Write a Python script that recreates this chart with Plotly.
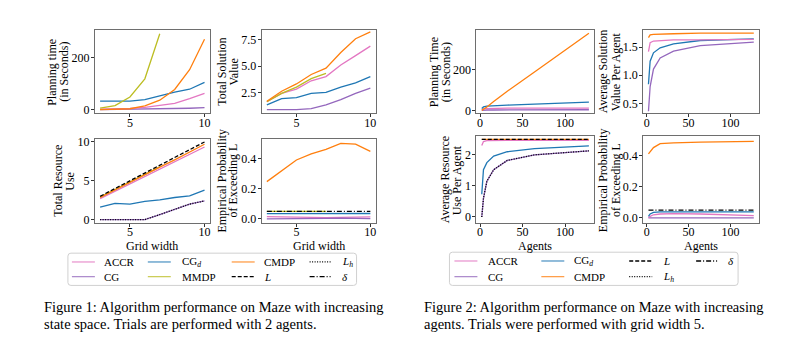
import plotly.graph_objects as go

# ---------------- data ----------------
grid_width = [3, 4, 5, 6, 7, 8, 9, 10]
grid_width_mmdp = [3, 4, 5, 6, 7]
agents = [2, 4, 8, 16, 32, 64, 128]

# Figure 1: increasing grid width
time_ACCR = [1, 2, 4, 8, 15, 24, 42, 62]
time_CG = [0, 0.5, 1, 2, 3, 4, 5, 7]
time_CGd = [32, 32, 32, 38, 52, 67, 78, 104]
time_MMDP = [5, 15, 48, 118, 291]
time_CMDP = [0, 1, 3, 14, 36, 77, 153, 270]

val_ACCR = [1.6, 2.4, 2.8, 3.6, 4.0, 5.1, 6.0, 6.9]
val_CG = [0.85, 0.85, 0.85, 0.95, 1.3, 1.8, 2.4, 2.9]
val_CGd = [1.3, 1.9, 2.0, 2.4, 2.5, 3.0, 3.4, 4.0]
val_MMDP = [1.6, 2.4, 3.0, 3.8, 4.3]
val_CMDP = [1.65, 2.6, 3.3, 4.2, 4.8, 6.3, 7.6, 8.25]

res_ACCR = [2.7, 3.65, 4.6, 5.55, 6.5, 7.45, 8.4, 9.35]
res_CG = [0, 0, 0, 0, 0.65, 1.3, 2.0, 2.4]
res_CGd = [1.6, 2.1, 2.0, 2.35, 2.55, 2.85, 3.05, 3.8]
res_MMDP = [2.9, 3.9, 4.85, 5.85, 6.8]
res_CMDP = [2.85, 3.85, 4.8, 5.8, 6.75, 7.7, 8.7, 9.7]
res_L = [3, 4, 5, 6, 7, 8, 9, 10]
res_Lh = [0, 0, 0, 0, 0.65, 1.3, 2.0, 2.4]

prob_ACCR = [0.015, 0.012, 0.01, 0.01, 0.009, 0.01, 0.012, 0.014]
prob_CG = [0.0, 0.0, 0.0, 0.002, 0.004, 0.006, 0.004, 0.002]
prob_CGd = [0.035, 0.035, 0.034, 0.034, 0.035, 0.036, 0.036, 0.036]
prob_MMDP = [0.05, 0.05, 0.05, 0.05, 0.05]
prob_CMDP = [0.247, 0.32, 0.39, 0.43, 0.46, 0.50, 0.495, 0.447]
prob_delta = [0.05] * 8

# Figure 2: increasing agents
time2_ACCR = [5, 8, 10, 11, 12, 12, 12]
time2_CG = [1, 2, 3, 3, 3, 4, 4]
time2_CGd = [10, 18, 22, 24, 27, 32, 42]
time2_CMDP = [1, 6, 18, 45, 95, 190, 380]

val2_ACCR = [1.42, 1.58, 1.61, 1.62, 1.63, 1.63, 1.64]
val2_CG = [0.36, 0.8, 1.11, 1.31, 1.43, 1.53, 1.59]
val2_CGd = [0.84, 1.25, 1.40, 1.49, 1.56, 1.62, 1.65]
val2_CMDP = [1.67, 1.72, 1.73, 1.73, 1.74, 1.75, 1.75]

res2_ACCR = [2.3, 2.43, 2.46, 2.47, 2.47, 2.47, 2.47]
res2_CG = [0.0, 0.6, 1.15, 1.52, 1.82, 2.0, 2.13]
res2_CGd = [0.73, 1.52, 1.75, 1.96, 2.1, 2.2, 2.29]
res2_CMDP = [2.5] * 7
res2_L = [2.5] * 7
res2_Lh = [0.0, 0.6, 1.15, 1.52, 1.82, 2.0, 2.13]

prob2_ACCR = [0.0, 0.01, 0.02, 0.025, 0.027, 0.025, 0.015]
prob2_CG = [0.0] * 7
prob2_CGd = [0.01, 0.025, 0.035, 0.038, 0.038, 0.038, 0.038]
prob2_CMDP = [0.41, 0.425, 0.45, 0.475, 0.48, 0.485, 0.49]
prob2_delta = [0.05] * 7

# ticks
f1_xticks = [5, 10]
f2_xticks = [0, 50, 100]
f1_time_ticks = [0, 200]
f1_val_ticks = [2.5, 5.0, 7.5]
f1_res_ticks = [0, 5, 10]
prob_ticks = [0.0, 0.2, 0.4]
f2_time_ticks = [0, 200]
f2_val_ticks = [0.5, 1.0, 1.5]
f2_res_ticks = [0, 1, 2]

# ---------------- style ----------------
W, H = 800, 350
FONT = "Liberation Serif"
C = {"ACCR": "#e377c2", "CG": "#9467bd", "CGd": "#1f77b4",
     "MMDP": "#bcbd22", "CMDP": "#ff7f0e", "ref": "#000000"}
DASH = {"L": "4px,2px", "Lh": "1px,1.5px", "delta": "5px,2px,1px,2px"}
LW = 1.3


def px(x):
    return x / W


def py(y):
    return 1 - y / H


fig = go.Figure()

# axis boxes in pixel coords: (x0, x1, ytop, ybottom)
panels = [
    (95, 210, 27, 112), (262, 376, 27, 112), (95, 210, 138, 224), (262, 376, 138, 224),
    (477, 595, 27, 112), (644, 760, 27, 112), (477, 595, 135, 224), (644, 760, 135, 224),
]
yranges = [(-15, 304), (0.49, 8.4), (-0.42, 10.4), (-0.026, 0.53),
           (-14, 394), (0.32, 1.80), (-0.19, 2.61), (-0.032, 0.525)]
ytick_sets = [f1_time_ticks, f1_val_ticks, f1_res_ticks, prob_ticks,
              f2_time_ticks, f2_val_ticks, f2_res_ticks, prob_ticks]
ytick_text = [[str(v) for v in f1_time_ticks], ["%.1f" % v for v in f1_val_ticks],
              [str(v) for v in f1_res_ticks], ["%.1f" % v for v in prob_ticks],
              [str(v) for v in f2_time_ticks], ["%.1f" % v for v in f2_val_ticks],
              [str(v) for v in f2_res_ticks], ["%.1f" % v for v in prob_ticks]]

axis_common = dict(showline=True, mirror=True, linecolor="#6e6e6e", linewidth=1,
                   showgrid=False, zeroline=False, ticks="outside", ticklen=3,
                   tickwidth=0.8, tickcolor="#333333",
                   tickfont=dict(family=FONT, size=12, color="black"))
layout_axes = {}
for i, (x0, x1, yt, yb) in enumerate(panels):
    n = i + 1
    sx = "" if n == 1 else str(n)
    if i < 4:
        xr, xt = (2.65, 10.35), f1_xticks
    else:
        xr, xt = (-4.3, 134.3), f2_xticks
    layout_axes["xaxis" + sx] = dict(axis_common, domain=[px(x0), px(x1)], range=list(xr),
                                     anchor="y" + sx, tickmode="array", tickvals=xt,
                                     ticktext=[str(v) for v in xt], ticklabelstandoff=-5)
    layout_axes["yaxis" + sx] = dict(axis_common, domain=[py(yb), py(yt)], range=list(yranges[i]),
                                     anchor="x" + sx, tickmode="array", tickvals=ytick_sets[i],
                                     ticktext=ytick_text[i], ticklabelstandoff=-1)


def add(n, x, y, color, dash="solid", width=LW):
    sx = "" if n == 1 else str(n)
    fig.add_trace(go.Scatter(x=x, y=y, mode="lines", xaxis="x" + sx, yaxis="y" + sx,
                             line=dict(color=color, width=width, dash=dash),
                             showlegend=False, hoverinfo="skip"))


g, gm, a = grid_width, grid_width_mmdp, agents
# Fig 1
add(1, g, time_CG, C["CG"]); add(1, g, time_ACCR, C["ACCR"]); add(1, g, time_CGd, C["CGd"])
add(1, gm, time_MMDP, C["MMDP"]); add(1, g, time_CMDP, C["CMDP"])
add(2, g, val_CG, C["CG"]); add(2, g, val_CGd, C["CGd"]); add(2, g, val_ACCR, C["ACCR"])
add(2, gm, val_MMDP, C["MMDP"]); add(2, g, val_CMDP, C["CMDP"])
add(3, g, res_ACCR, C["ACCR"]); add(3, g, res_CG, C["CG"]); add(3, g, res_CGd, C["CGd"])
add(3, gm, res_MMDP, C["MMDP"]); add(3, g, res_CMDP, C["CMDP"])
add(3, g, res_L, C["ref"], DASH["L"]); add(3, g, res_Lh, C["ref"], DASH["Lh"])
add(4, g, prob_ACCR, C["ACCR"]); add(4, g, prob_CG, C["CG"]); add(4, g, prob_CGd, C["CGd"])
add(4, gm, prob_MMDP, C["MMDP"]); add(4, g, prob_CMDP, C["CMDP"])
add(4, g, prob_delta, C["ref"], DASH["delta"])
# Fig 2
add(5, a, time2_CG, C["CG"]); add(5, a, time2_ACCR, C["ACCR"]); add(5, a, time2_CGd, C["CGd"])
add(5, a, time2_CMDP, C["CMDP"])
add(6, a, val2_CG, C["CG"]); add(6, a, val2_CGd, C["CGd"]); add(6, a, val2_ACCR, C["ACCR"])
add(6, a, val2_CMDP, C["CMDP"])
add(7, a, res2_ACCR, C["ACCR"]); add(7, a, res2_CG, C["CG"]); add(7, a, res2_CGd, C["CGd"])
add(7, a, res2_CMDP, C["CMDP"])
add(7, a, res2_L, C["ref"], DASH["L"]); add(7, a, res2_Lh, C["ref"], DASH["Lh"])
add(8, a, prob2_CG, C["CG"]); add(8, a, prob2_ACCR, C["ACCR"]); add(8, a, prob2_CGd, C["CGd"])
add(8, a, prob2_CMDP, C["CMDP"])
add(8, a, prob2_delta, C["ref"], DASH["delta"])

annotations = []
shapes = []


def text(x, y, s, size=12, angle=0, xanchor="center"):
    annotations.append(dict(x=px(x), y=py(y), xref="paper", yref="paper", text=s,
                            showarrow=False, textangle=angle, xanchor=xanchor,
                            yanchor="middle", font=dict(family=FONT, size=size, color="black")))


# y titles (two lines each)
ytitles = [
    ("Planning time", "(in Seconds)", 52, 64, 69.5),
    ("Total Solution", "Value", 222, 234, 69.5),
    ("Total Resource", "Use", 58, 70, 181),
    ("Empirical Probability", "of Exceeding L", 222, 233, 181),
    ("Planning Time", "(in Seconds)", 434, 446, 69.5),
    ("Average Solution", "Value Per Agent", 604, 617, 69.5),
    ("Average Resource", "Use Per Agent", 445, 457, 180),
    ("Empirical Probability", "of Exceeding L", 604, 617, 180),
]
for l1, l2, x1, x2, yc in ytitles:
    text(x1, yc, l1, angle=-90)
    text(x2, yc, l2, angle=-90)

# x titles
text(152.5, 248, "Grid width"); text(319, 248, "Grid width")
text(536, 248, "Agents"); text(702, 248, "Agents")

# captions
CAP = 14.5
text(42, 310, "Figure 1: Algorithm performance on Maze with increasing", CAP, xanchor="left")
text(42, 327, "state space. Trials are performed with 2 agents.", CAP, xanchor="left")
text(423, 310, "Figure 2: Algorithm performance on Maze with increasing", CAP, xanchor="left")
text(423, 327, "agents. Trials were performed with grid width 5.", CAP, xanchor="left")


def rounded_box(x0, y0, x1, y1, r=3):
    rx, ry = r / W, r / H
    X0, X1, Y0, Y1 = px(x0), px(x1), py(y1), py(y0)
    path = (f"M {X0+rx},{Y1} L {X1-rx},{Y1} Q {X1},{Y1} {X1},{Y1-ry} "
            f"L {X1},{Y0+ry} Q {X1},{Y0} {X1-rx},{Y0} L {X0+rx},{Y0} "
            f"Q {X0},{Y0} {X0},{Y0+ry} L {X0},{Y1-ry} Q {X0},{Y1} {X0+rx},{Y1} Z")
    shapes.append(dict(type="path", path=path, xref="paper", yref="paper",
                       line=dict(color="#d0d0d0", width=1), fillcolor="white"))


def legend_entry(lx0, lx1, tx, y, label, color, dash="solid"):
    shapes.append(dict(type="line", xref="paper", yref="paper", x0=px(lx0), x1=px(lx1),
                       y0=py(y), y1=py(y), line=dict(color=color, width=1.3, dash=dash),
                       opacity=0.75 if color != "#000000" else 1))
    text(tx, y, label, 11, xanchor="left")


LBL = {"ACCR": "ACCR", "CG": "CG", "CGd": "CG<sub><i>d</i></sub>", "MMDP": "MMDP",
       "CMDP": "CMDP", "L": "<i>L</i>", "Lh": "<i>L<sub>h</sub></i>", "delta": "<i>δ</i>"}

# Figure 1 legend
rounded_box(68, 255, 357, 288)
r1, r2 = 264, 279
legend_entry(72, 95, 102, r1, LBL["ACCR"], C["ACCR"])
legend_entry(72, 95, 102, r2, LBL["CG"], C["CG"])
legend_entry(148, 171, 180, r1, LBL["CGd"], C["CGd"])
legend_entry(148, 171, 180, r2, LBL["MMDP"], C["MMDP"])
legend_entry(232, 255, 262, r1, LBL["CMDP"], C["CMDP"])
legend_entry(232, 255, 262, r2, LBL["L"], C["ref"], DASH["L"])
legend_entry(310, 331, 340, r1, LBL["Lh"], C["ref"], DASH["Lh"])
legend_entry(310, 331, 340, r2, LBL["delta"], C["ref"], DASH["delta"])

# Figure 2 legend
rounded_box(450, 254, 739, 288)
r1, r2 = 263, 279
legend_entry(455, 478, 487, r1, LBL["ACCR"], C["ACCR"])
legend_entry(455, 478, 487, r2, LBL["CG"], C["CG"])
legend_entry(542, 565, 573, r1, LBL["CGd"], C["CGd"])
legend_entry(542, 565, 573, r2, LBL["CMDP"], C["CMDP"])
legend_entry(630, 653, 662, r1, LBL["L"], C["ref"], DASH["L"])
legend_entry(630, 653, 662, r2, LBL["Lh"], C["ref"], DASH["Lh"])
legend_entry(697, 718, 727, r1, LBL["delta"], C["ref"], DASH["delta"])

fig.update_layout(width=W, height=H, margin=dict(l=0, r=0, t=0, b=0),
                  paper_bgcolor="white", plot_bgcolor="white", showlegend=False,
                  annotations=annotations, shapes=shapes,
                  font=dict(family=FONT, size=12, color="black"), **layout_axes)

fig.write_html("out.html")
